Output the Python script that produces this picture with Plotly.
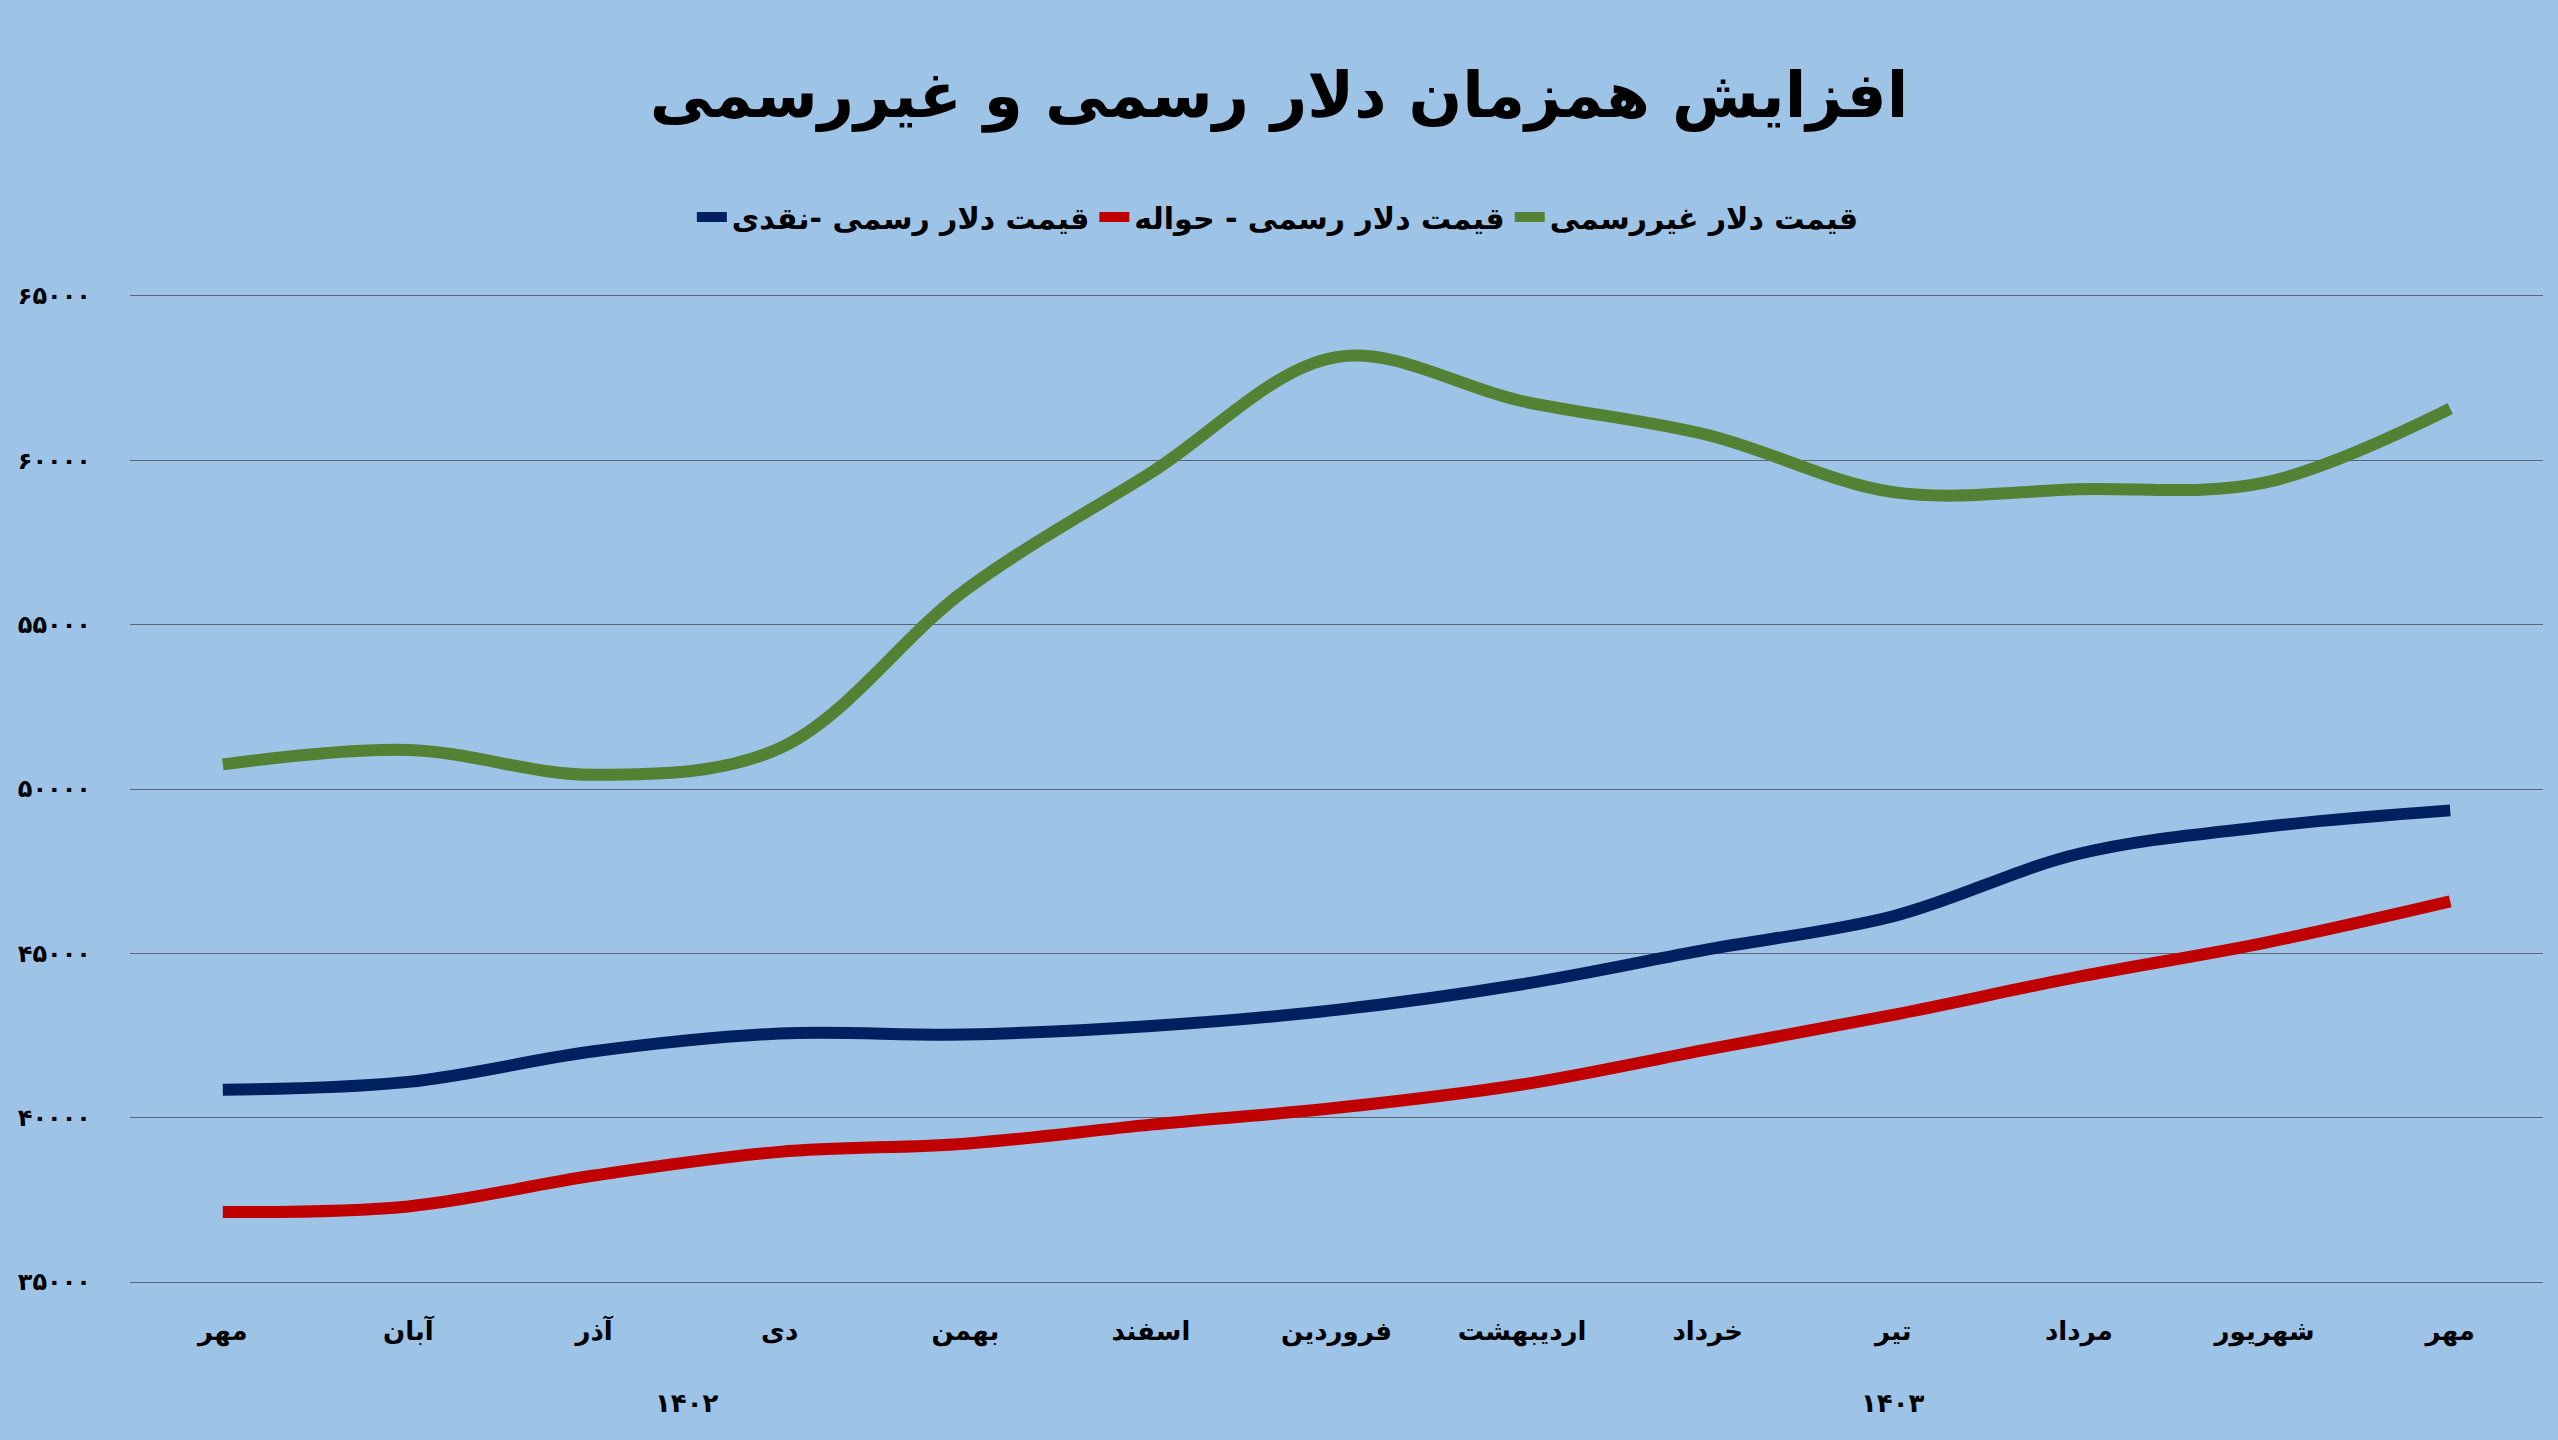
import plotly.graph_objects as go

# ---- data ----
months = ["مهر", "آبان", "آذر", "دی", "بهمن", "اسفند", "فروردین",
          "اردیبهشت", "خرداد", "تیر", "مرداد", "شهریور", "مهر"]
years = ["۱۴۰۲"] * 6 + ["۱۴۰۳"] * 7

unofficial = [50750, 51190, 50430, 51240, 56050, 59620, 63140,
              61800, 60770, 59030, 59120, 59320, 61570]
official_remit = [37130, 37300, 38240, 38960, 39210, 39790, 40300,
                  41010, 42080, 43130, 44290, 45320, 46580]
official_cash = [40850, 41090, 42020, 42560, 42530, 42790, 43280,
                 44060, 45120, 46130, 48030, 48850, 49350]

series_names = ["قیمت دلار غیررسمی", "قیمت دلار رسمی - حواله", "قیمت دلار رسمی -نقدی"]
series_colors = ["#548235", "#C00000", "#002060"]
title_text = "افزایش همزمان دلار رسمی و غیررسمی"
y_ticks = [35000, 40000, 45000, 50000, 55000, 60000, 65000]

fa = str.maketrans("0123456789", "۰۱۲۳۴۵۶۷۸۹")
y_ticktext = [str(v).translate(fa) for v in y_ticks]

FONT = "DejaVu Sans"
idx = list(range(len(months)))

fig = go.Figure()
for name, vals, col in zip(series_names, [unofficial, official_remit, official_cash], series_colors):
    fig.add_trace(go.Scatter(
        x=idx, y=vals, name=f"<b>{name}</b>", mode="lines",
        line=dict(color=col, width=12, shape="spline", smoothing=1),
    ))

# year group labels
for yr in ["۱۴۰۲", "۱۴۰۳"]:
    pos = [i for i, y in zip(idx, years) if y == yr]
    fig.add_annotation(
        x=sum(pos) / len(pos), y=-0.1177, xref="x", yref="paper",
        text=f"<b>{yr}</b>", showarrow=False, yanchor="middle",
        font=dict(family=FONT, size=26, color="black"),
    )

fig.update_layout(
    width=2558, height=1440,
    paper_bgcolor="#9DC3E6", plot_bgcolor="#9DC3E6",
    margin=dict(l=130, r=15, t=292, b=154),
    title=dict(text=f"<b>{title_text}</b>", x=0.5, xanchor="center",
               y=1 - 95 / 1440, yref="container", yanchor="middle",
               font=dict(family=FONT, size=63, color="black")),
    legend=dict(orientation="h", x=0.4757, xanchor="center", y=1.0755, yanchor="middle",
                traceorder="reversed", bgcolor="rgba(0,0,0,0)",
                font=dict(family=FONT, size=30, color="black")),
    font=dict(family=FONT, color="black"),
    showlegend=True,
)
fig.update_xaxes(
    range=[-0.5, len(months) - 0.5], tickmode="array", tickvals=idx,
    ticktext=[f"<b>{m}</b>" for m in months],
    tickfont=dict(family=FONT, size=26, color="black"),
    showgrid=False, zeroline=False, showline=False, ticks="",
    ticklabelstandoff=27,
)
fig.update_yaxes(
    range=[34880, 65120], tickmode="array", tickvals=y_ticks,
    ticktext=[f"<b>{t}</b>" for t in y_ticktext],
    tickfont=dict(family=FONT, size=24, color="black"),
    showgrid=True, gridcolor="#5b6573", gridwidth=1, zeroline=False,
    showline=False, ticks="", ticklabelstandoff=38,
)

fig.write_html("out.html")
